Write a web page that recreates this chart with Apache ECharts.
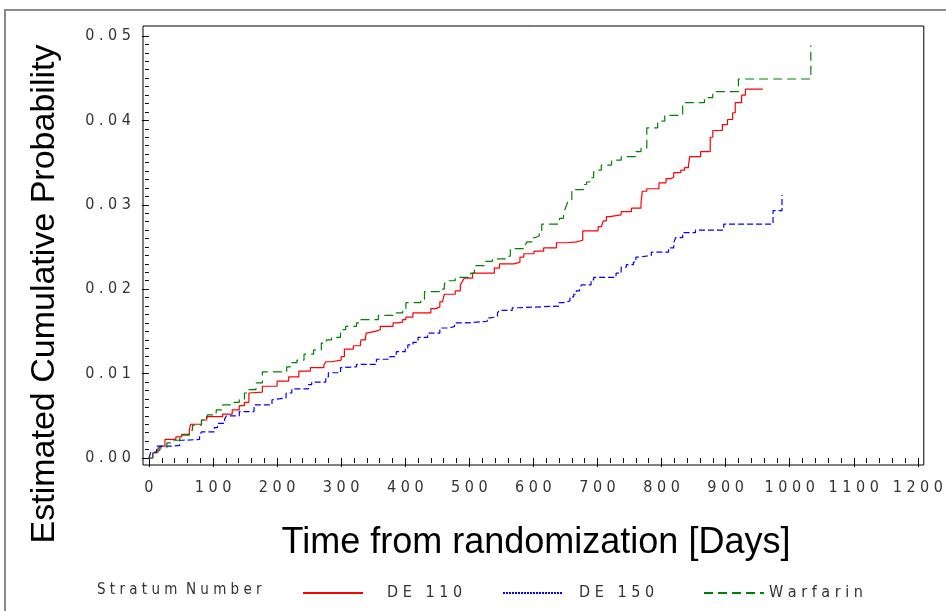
<!DOCTYPE html>
<html>
<head>
    <meta charset="utf-8">
    <title>Cumulative probability</title>
    <script src="https://cdn.jsdelivr.net/npm/echarts@6/dist/echarts.min.js"></script>
    <style>
        html, body { margin: 0; padding: 0; background: #fff; }
        #main { width: 946px; height: 611px; }
    </style>
</head>
<body>
<div id="main"></div>
<script type="text/javascript">
    // step points [day, cumulative probability]
    var de110 = [
        [0, 0], [6, 0.0006], [12, 0.0009], [17, 0.0014], [25, 0.0022], [42, 0.0025], [51, 0.0028],
        [63, 0.0033], [65, 0.0040], [82, 0.0045], [90, 0.0049], [115, 0.0052], [130, 0.0057],
        [141, 0.0062], [149, 0.0066], [156, 0.0077], [159, 0.0078], [177, 0.0085], [200, 0.0091],
        [218, 0.0096], [234, 0.0103], [252, 0.0107], [273, 0.0110], [276, 0.0114], [285, 0.0116],
        [300, 0.0120], [305, 0.0129], [319, 0.0133], [330, 0.0136], [331, 0.0140], [338, 0.0143],
        [339, 0.0148], [342, 0.0150], [353, 0.0152], [361, 0.0156], [381, 0.0160], [389, 0.0161],
        [396, 0.0164], [401, 0.0167], [412, 0.0172], [440, 0.0177], [448, 0.0179], [454, 0.0185],
        [458, 0.0187], [461, 0.0194], [478, 0.0198], [486, 0.0205], [489, 0.0209], [492, 0.0213],
        [505, 0.0219], [539, 0.0225], [547, 0.0230], [570, 0.0232], [579, 0.0238], [585, 0.0242],
        [601, 0.0245], [616, 0.0249], [636, 0.0255], [652, 0.0256], [667, 0.0258], [677, 0.0269],
        [701, 0.0274], [706, 0.0276], [709, 0.0281], [714, 0.0286], [719, 0.0288], [737, 0.0292],
        [753, 0.0296], [768, 0.0303], [770, 0.0316], [777, 0.0319], [796, 0.0326], [807, 0.0331],
        [815, 0.0333], [819, 0.0338], [830, 0.0341], [836, 0.0344], [842, 0.0347], [844, 0.0357],
        [861, 0.0363], [876, 0.0380], [880, 0.0388], [895, 0.0395], [903, 0.0401], [911, 0.0409],
        [915, 0.0421], [925, 0.0430], [931, 0.0437], [958, 0.0437]
    ];
    var de150 = [
        [0, 0], [3, 0.0007], [12, 0.0014], [36, 0.0015], [48, 0.0021], [53, 0.0022], [79, 0.0027],
        [82, 0.0031], [102, 0.0036], [107, 0.0041], [118, 0.0046], [121, 0.0050], [141, 0.0055],
        [164, 0.0063], [192, 0.0069], [195, 0.0071], [214, 0.0077], [223, 0.0082], [249, 0.0087],
        [254, 0.0090], [276, 0.0096], [280, 0.0101], [299, 0.0107], [300, 0.0108], [324, 0.0111],
        [355, 0.0117], [376, 0.0120], [386, 0.0126], [400, 0.0130], [404, 0.0134], [412, 0.0137],
        [420, 0.0143], [435, 0.0148], [454, 0.0154], [469, 0.0156], [477, 0.0160], [494, 0.0162],
        [528, 0.0166], [533, 0.0168], [544, 0.0172], [547, 0.0175], [567, 0.0178], [578, 0.0180],
        [640, 0.0184], [647, 0.0186], [657, 0.0191], [663, 0.0194], [667, 0.0198], [672, 0.0201],
        [675, 0.0205], [690, 0.0211], [694, 0.0214], [729, 0.0219], [737, 0.0226], [745, 0.0229],
        [756, 0.0232], [760, 0.0238], [765, 0.0240], [784, 0.0244], [811, 0.0249], [819, 0.0255],
        [822, 0.0261], [833, 0.0267], [853, 0.0270], [897, 0.0277], [974, 0.0293], [988, 0.0312]
    ];
    var warfarin = [
        [0, 0], [6, 0.0006], [14, 0.0012], [28, 0.0018], [37, 0.0021], [48, 0.0027], [63, 0.0033],
        [68, 0.0039], [82, 0.0045], [91, 0.0051], [105, 0.0057], [115, 0.0063], [133, 0.0066],
        [141, 0.0069], [149, 0.0077], [153, 0.0081], [167, 0.0089], [177, 0.0102], [215, 0.0108],
        [223, 0.0113], [231, 0.0116], [242, 0.0123], [257, 0.0128], [269, 0.0136], [277, 0.0140],
        [285, 0.0143], [299, 0.0152], [307, 0.0156], [324, 0.0160], [330, 0.0164], [358, 0.0169],
        [386, 0.0172], [396, 0.0177], [401, 0.0184], [424, 0.0188], [430, 0.0197], [454, 0.0200],
        [461, 0.0205], [463, 0.0210], [478, 0.0214], [502, 0.0219], [508, 0.0228], [525, 0.0233],
        [536, 0.0236], [559, 0.0239], [564, 0.0248], [587, 0.0252], [590, 0.0256], [598, 0.0261],
        [602, 0.0263], [609, 0.0268], [613, 0.0277], [640, 0.0280], [641, 0.0284], [647, 0.0290],
        [649, 0.0294], [652, 0.0300], [655, 0.0306], [660, 0.0318], [678, 0.0324], [683, 0.0327],
        [688, 0.0332], [694, 0.0338], [695, 0.0341], [706, 0.0347], [722, 0.0353], [737, 0.0357],
        [760, 0.0363], [768, 0.0367], [777, 0.0391], [794, 0.0399], [805, 0.0406], [833, 0.0421],
        [867, 0.0427], [880, 0.0434], [920, 0.0449], [1033, 0.0489]
    ];

    var xTickLabels = [0, 100, 200, 300, 400, 500, 600, 700, 800, 900, 1000, 1100, 1200];
    var yTickLabels = [0, 0.01, 0.02, 0.03, 0.04, 0.05];

    var xMinor = [];
    for (var i = 0; i <= 1200; i += 20) {
        if (i % 100 !== 0) xMinor.push(i);
    }
    var yMinor = [];
    for (var j = 0; j <= 50; j++) {
        if (j % 10 !== 0) yMinor.push(j / 1000);
    }

    var sasFont = '"DejaVu Sans Condensed", "DejaVu Sans", sans-serif';
    function spaced(s) {
        return s.split('').join(' ');
    }

    // one legend per entry so each sits where the SAS legend puts it
    function legendFor(name, left, gap, lineStyle) {
        var item = { name: name, itemStyle: { opacity: 0 } };
        if (lineStyle) item.lineStyle = lineStyle;
        return {
            left: left,
            top: 580,
            itemWidth: 60,
            itemHeight: 14,
            selectedMode: false,
            data: [item],
            formatter: function (n) {
                return n.split(' ').map(spaced).join('   ');
            },
            textStyle: {
                fontFamily: sasFont,
                fontSize: 16,
                color: '#333',
                padding: [0, 0, 0, gap]
            }
        };
    }

    var chart = echarts.init(document.getElementById('main'));
    var option = {
        animation: false,
        backgroundColor: '#fff',
        grid: {
            left: 143,
            top: 26,
            width: 787,
            height: 439,
            show: true,
            borderColor: '#000',
            borderWidth: 1
        },
        xAxis: [
            {
                type: 'value',
                position: 'bottom',
                min: -9.29,
                max: 1209.29,
                axisLine: { show: false },
                splitLine: { show: false },
                axisTick: { show: true, length: 9, customValues: xTickLabels, lineStyle: { color: '#000' } },
                axisLabel: {
                    customValues: xTickLabels,
                    margin: 15,
                    fontFamily: sasFont,
                    fontSize: 16,
                    color: '#333',
                    formatter: function (v) { return spaced(String(v)); }
                }
            },
            {
                type: 'value',
                position: 'bottom',
                min: -9.29,
                max: 1209.29,
                axisLine: { show: false },
                splitLine: { show: false },
                axisTick: { show: true, length: 5, customValues: xMinor, lineStyle: { color: '#000' } },
                axisLabel: { show: false }
            }
        ],
        yAxis: [
            {
                type: 'value',
                position: 'left',
                min: -0.00083,
                max: 0.05118,
                axisLine: { show: false },
                splitLine: { show: false },
                axisTick: { show: true, length: 7, customValues: yTickLabels, lineStyle: { color: '#000' } },
                axisLabel: {
                    customValues: yTickLabels,
                    margin: 12,
                    fontFamily: sasFont,
                    fontSize: 16,
                    color: '#333',
                    formatter: function (v) { return spaced(v.toFixed(2)); }
                }
            },
            {
                type: 'value',
                position: 'left',
                min: -0.00083,
                max: 0.05118,
                axisLine: { show: false },
                splitLine: { show: false },
                axisTick: { show: true, length: 4, customValues: yMinor, lineStyle: { color: '#000' } },
                axisLabel: { show: false }
            }
        ],
        legend: [
            legendFor('DE 110', 297, 19),
            legendFor('DE 150', 497, 11, { type: [2, 1] }),
            legendFor('Warfarin', 698, 0)
        ],
        graphic: [
            {
                type: 'rect',
                silent: true,
                shape: { x: 5, y: 10, width: 1000, height: 700 },
                style: { fill: null, stroke: '#8a8a8a', lineWidth: 2 }
            },
            {
                type: 'text',
                left: 97,
                top: 583,
                style: {
                    text: spaced('Stratum') + '  ' + spaced('Number'),
                    font: '15px ' + sasFont,
                    fill: '#333'
                }
            },
            {
                type: 'text',
                x: 45,
                y: 294,
                rotation: Math.PI / 2,
                style: {
                    text: 'Estimated Cumulative Probability',
                    font: '34px "Liberation Sans", Arial, sans-serif',
                    fill: '#000',
                    textAlign: 'center',
                    textVerticalAlign: 'middle'
                }
            },
            {
                type: 'text',
                x: 536,
                y: 543,
                style: {
                    text: 'Time from randomization [Days]',
                    font: '36px "Liberation Sans", Arial, sans-serif',
                    fill: '#000',
                    textAlign: 'center',
                    textVerticalAlign: 'middle'
                }
            }
        ],
        series: [
            {
                name: 'DE 110',
                type: 'line',
                step: 'end',
                symbol: 'none',
                data: de110,
                lineStyle: { color: '#ff0000', width: 1.2, type: 'solid' },
                itemStyle: { color: '#ff0000' }
            },
            {
                name: 'DE 150',
                type: 'line',
                step: 'end',
                symbol: 'none',
                data: de150,
                lineStyle: { color: '#0000ff', width: 1.2, type: [6, 3] },
                itemStyle: { color: '#0000ff' }
            },
            {
                name: 'Warfarin',
                type: 'line',
                step: 'end',
                symbol: 'none',
                data: warfarin,
                lineStyle: { color: '#008000', width: 1.2, type: [9, 5] },
                itemStyle: { color: '#008000' }
            }
        ]
    };
    chart.setOption(option);
</script>
</body>
</html>
